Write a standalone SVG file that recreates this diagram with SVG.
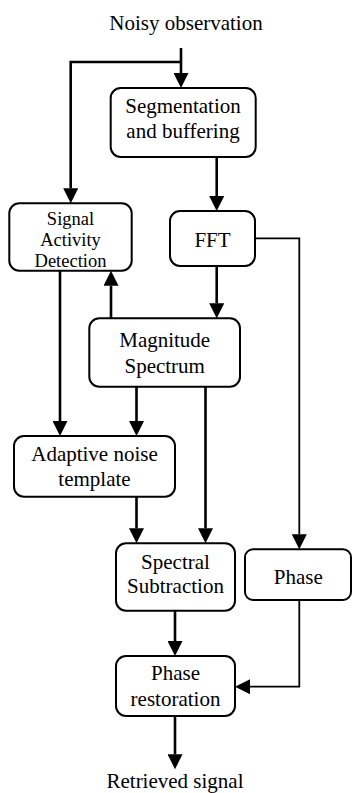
<svg xmlns="http://www.w3.org/2000/svg" width="352" height="793" viewBox="0 0 352 793">
  <style>
    .box { fill: #fff; stroke: #000; stroke-width: 2; }
    .t { font-family: 'Liberation Serif', 'Times New Roman', 'DejaVu Serif', serif; font-size: 21px; fill: #000; text-anchor: middle; }
    .ts { font-size: 18.5px; }
    .c { fill: none; stroke: #000; stroke-width: 2.6; marker-end: url(#ah); }
    .thin { stroke-width: 1.8; }
  </style>
  <defs>
    <marker id="ah" markerUnits="userSpaceOnUse" markerWidth="15" markerHeight="15" viewBox="0 0 15 15" refX="0" refY="7.5" orient="auto">
      <path d="M0,0 L15,7.5 L0,15 z" fill="#000"/>
    </marker>
  </defs>
  <rect width="352" height="793" fill="#fff"/>

  <g id="connectors">
    <path class="c" d="M181,48 V73"/>
    <path class="c" d="M181,62 H70.7 V188.3"/>
    <path class="c" d="M216.7,157 V196"/>
    <path class="c" d="M216.7,266 V303.3"/>
    <path class="c" d="M111,318.3 V285.7"/>
    <path class="c" d="M60,270.7 V421"/>
    <path class="c" d="M136.5,386.7 V421"/>
    <path class="c" d="M136.5,496.7 V528.3"/>
    <path class="c" d="M205.5,386.7 V528.3"/>
    <path class="c thin" d="M255,238.3 H299.3 V534.3"/>
    <path class="c" d="M175,610.7 V641"/>
    <path class="c thin" d="M299.3,600 V686.7 H250"/>
    <path class="c" d="M175,716 V754.3"/>
  </g>

  <g id="input-label"><text class="t" font-family="Liberation Serif, serif" x="186" y="30">Noisy observation</text></g>

  <g id="seg">
    <rect class="box" x="110.7" y="88" width="145" height="69" rx="10"/>
    <text class="t" font-family="Liberation Serif, serif" x="183" y="112.7">Segmentation</text>
    <text class="t" font-family="Liberation Serif, serif" x="183" y="137.7">and buffering</text>
  </g>

  <g id="sad">
    <rect class="box" x="9.3" y="203.3" width="122.4" height="67.4" rx="10"/>
    <text class="t ts" font-family="Liberation Serif, serif" x="70.5" y="225">Signal</text>
    <text class="t ts" font-family="Liberation Serif, serif" x="70.5" y="246">Activity</text>
    <text class="t ts" font-family="Liberation Serif, serif" x="70.5" y="266.5">Detection</text>
  </g>

  <g id="fft">
    <rect class="box" x="170" y="211" width="85" height="55" rx="10"/>
    <text class="t" font-family="Liberation Serif, serif" x="212.5" y="246.5">FFT</text>
  </g>

  <g id="mag">
    <rect class="box" x="89.3" y="318.3" width="150.7" height="68.4" rx="10"/>
    <text class="t" font-family="Liberation Serif, serif" x="164.7" y="347.3">Magnitude</text>
    <text class="t" font-family="Liberation Serif, serif" x="164.7" y="372.7">Spectrum</text>
  </g>

  <g id="ant">
    <rect class="box" x="14" y="436" width="161" height="60.7" rx="10"/>
    <text class="t" font-family="Liberation Serif, serif" x="94.5" y="461">Adaptive noise</text>
    <text class="t" font-family="Liberation Serif, serif" x="94.5" y="486">template</text>
  </g>

  <g id="ss">
    <rect class="box" x="116" y="543.3" width="119" height="67.4" rx="10"/>
    <text class="t" font-family="Liberation Serif, serif" x="175.5" y="569.3">Spectral</text>
    <text class="t" font-family="Liberation Serif, serif" x="175.5" y="593">Subtraction</text>
  </g>

  <g id="phase">
    <rect class="box" x="245" y="549.3" width="106" height="50.7" rx="8"/>
    <text class="t" font-family="Liberation Serif, serif" x="298.3" y="584">Phase</text>
  </g>

  <g id="pr">
    <rect class="box" x="116" y="656" width="119" height="60" rx="10"/>
    <text class="t" font-family="Liberation Serif, serif" x="175.5" y="680">Phase</text>
    <text class="t" font-family="Liberation Serif, serif" x="175.5" y="705.7">restoration</text>
  </g>

  <g id="output-label"><text class="t" font-family="Liberation Serif, serif" x="175" y="788">Retrieved signal</text></g>
</svg>
